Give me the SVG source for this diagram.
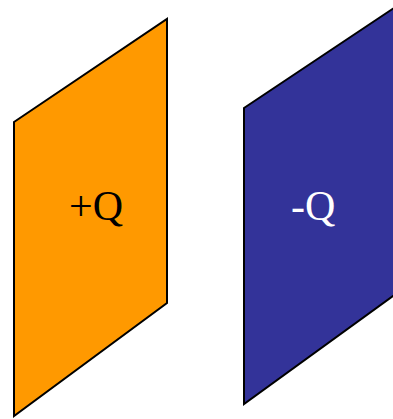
<svg xmlns="http://www.w3.org/2000/svg" width="393" height="419" viewBox="0 0 393 419">
<style>
.plate{stroke:#000;stroke-width:2;stroke-linejoin:miter}
</style>
<rect width="393" height="419" fill="#fff"/>
<g id="plate-pos">
<polygon class="plate" fill="#FF9900" points="14,122 167,19 167,303 14,416"/>
<text x="69" y="220" fill="#000" font-family="Liberation Serif, serif" font-size="42">+Q</text>
</g>
<g id="plate-neg">
<polygon class="plate" fill="#333399" points="244,108 397,6 397,293 244,404"/>
<text x="291" y="220" fill="#fff" font-family="Liberation Serif, serif" font-size="42">-Q</text>
</g>
<g id="connectors"/>
</svg>
